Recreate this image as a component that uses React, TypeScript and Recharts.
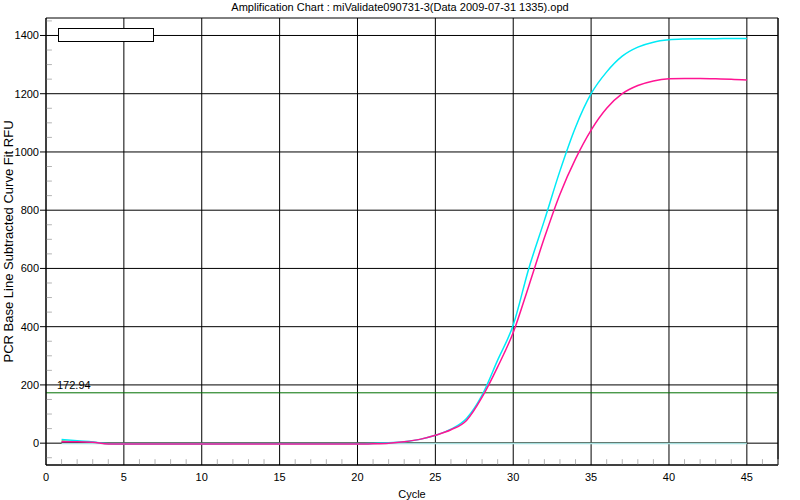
import { LineChart, Line, XAxis, YAxis, CartesianGrid, ReferenceLine } from 'recharts'

const cycles = [
  1, 2, 3, 4, 5, 6, 7, 8, 9, 10, 11, 12, 13, 14, 15, 16, 17, 18, 19, 20, 21, 22, 23,
  24, 25, 26, 27, 28, 29, 30, 31, 32, 33, 34, 35, 36, 37, 38, 39, 40, 41, 42, 43, 44, 45,
]

const wellCyan = [
  13, 8, 4, -2, -3, -3, -3, -3, -3, -3, -3, -2, -2, -2, -2, -2, -2, -2, -2, -2, -1, 1, 5,
  13, 27, 48, 85, 165, 285, 406, 600, 765, 935, 1085, 1200, 1275, 1329, 1360, 1377, 1385,
  1388, 1389, 1389, 1390, 1390,
]

const wellPink = [
  5, 5, 3, -3, -3, -3, -3, -3, -3, -3, -3, -3, -3, -3, -3, -3, -3, -3, -3, -3, -2, 0, 5,
  13, 27, 46, 78, 158, 262, 380, 540, 705, 855, 976, 1075, 1150, 1200, 1228, 1244, 1251,
  1252, 1252, 1251, 1250, 1247,
]

// no-template wells, they sit on the baseline
const wellGreen = [
  8, 6, 3, 0, 0, 0, 0, 0, 0, 0, 0, 0, 0, 0, 0, 0, 0, 0, 0, 0, 0, 0, 0,
  0, 0, 0, 0, 0, 0, 0, 0, 0, 0, 0, 0, 0, 0, 0, 0, 0, 0, 0, 0, 0, 0,
]
const wellBlack = [
  2, 2, 1, 0, 0, 0, 0, 0, 0, 0, 0, 0, 0, 0, 0, 0, 0, 0, 0, 0, 0, 0, 0,
  0, 0, 0, 0, 0, 0, 0, 0, 0, 0, 0, 0, 0, 0, 0, 0, 0, 0, 0, 0, 0, 0,
]
const wellLight = [
  -1, -1, -1, -1, -1, -1, -1, -1, -1, -1, -1, -1, -1, -1, -1, -1, -1, -1, -1, -1, -1, -1, -1,
  -1, -1, -1, -1, -1, -1, -1, -1, -1, -1, -1, -1, -1, -1, -1, -1, -1, -1, -1, -1, -1, -1,
]

const threshold = 172.94
const xTicks = [0, 5, 10, 15, 20, 25, 30, 35, 40, 45]
const yTicks = [0, 200, 400, 600, 800, 1000, 1200, 1400]
const xMinor = Array.from({ length: 47 }, (_, i) => i + 1).filter((c) => c % 5 !== 0)
const yMinor = Array.from({ length: 31 }, (_, i) => i * 50 - 50).filter((v) => v % 200 !== 0)

const data = cycles.map((c, i) => ({
  cycle: c,
  cyan: wellCyan[i],
  pink: wellPink[i],
  green: wellGreen[i],
  black: wellBlack[i],
  light: wellLight[i],
}))

const font = '"Liberation Sans", Arial, sans-serif'
const Y_MIN = -75
const Y_MAX = 1460
const X_MAX = 47

export default function App() {
  return (
    <div style={{ position: 'absolute', left: 0, top: 0, width: 800, height: 500, background: '#fff', fontFamily: font }}>
      <LineChart width={800} height={500} data={data} margin={{ top: 18, right: 22, left: 0, bottom: 0 }}>
        <CartesianGrid stroke="#000" strokeWidth={1} />
        <XAxis
          dataKey="cycle"
          type="number"
          domain={[0, X_MAX]}
          ticks={xTicks}
          interval={0}
          height={35}
          tickLine={false}
          tickSize={4}
          tickMargin={4}
          axisLine={{ stroke: '#000' }}
          tick={{ fontSize: 11, fill: '#000', fontFamily: font }}
          label={{ value: 'Cycle', position: 'insideBottom', offset: 2, fontSize: 11, fill: '#000', fontFamily: font }}
        />
        <YAxis
          type="number"
          domain={[Y_MIN, Y_MAX]}
          ticks={yTicks}
          interval={0}
          width={46}
          tickSize={6}
          tickMargin={1}
          tickLine={{ stroke: '#000' }}
          axisLine={{ stroke: '#000' }}
          tick={{ fontSize: 11, fill: '#000', fontFamily: font }}
          label={({ viewBox }: any) => (
            <text
              x={viewBox.x + 13}
              y={viewBox.y + viewBox.height / 2}
              transform={`rotate(-90 ${viewBox.x + 13} ${viewBox.y + viewBox.height / 2})`}
              textAnchor="middle"
              fontSize={13}
              fill="#000"
              fontFamily={font}
            >
              PCR Base Line Subtracted Curve Fit RFU
            </text>
          )}
        />
        <ReferenceLine x={X_MAX} stroke="#000" />
        {xMinor.map((c) => (
          <ReferenceLine
            key={`xm${c}`}
            segment={[{ x: c, y: Y_MIN }, { x: c, y: Y_MIN + 20 }]}
            stroke="#b4b4b4"
          />
        ))}
        {yMinor.map((v) => (
          <ReferenceLine
            key={`ym${v}`}
            segment={[{ x: 0, y: v }, { x: 0.38, y: v }]}
            stroke="#b4b4b4"
          />
        ))}
        <ReferenceLine
          y={threshold}
          stroke="#007000"
          label={({ viewBox }: any) => (
            <text x={viewBox.x + 11} y={viewBox.y - 4} fontSize={11} fill="#000" fontFamily={font}>
              {threshold}
            </text>
          )}
        />
        <Line type="monotone" dataKey="green" stroke="#88bb88" strokeWidth={1.5} dot={false} isAnimationActive={false} />
        <Line type="monotone" dataKey="black" stroke="#000" strokeWidth={1.5} dot={false} isAnimationActive={false} />
        <Line type="monotone" dataKey="light" stroke="#a8e0e0" strokeWidth={1.5} dot={false} isAnimationActive={false} />
        <Line type="monotone" dataKey="cyan" stroke="#00eaf6" strokeWidth={1.5} dot={false} isAnimationActive={false} />
        <Line type="monotone" dataKey="pink" stroke="#ff1493" strokeWidth={1.5} dot={false} isAnimationActive={false} />
      </LineChart>
      <div
        style={{
          position: 'absolute', left: 0, top: 1, width: 800, textAlign: 'center',
          fontSize: 11, color: '#000',
        }}
      >
        Amplification Chart : miValidate090731-3(Data 2009-07-31 1335).opd
      </div>
      <div
        style={{
          position: 'absolute', left: 58, top: 28, width: 96, height: 14,
          background: '#fff', border: '1px solid #000', boxSizing: 'border-box',
        }}
      />
    </div>
  )
}
